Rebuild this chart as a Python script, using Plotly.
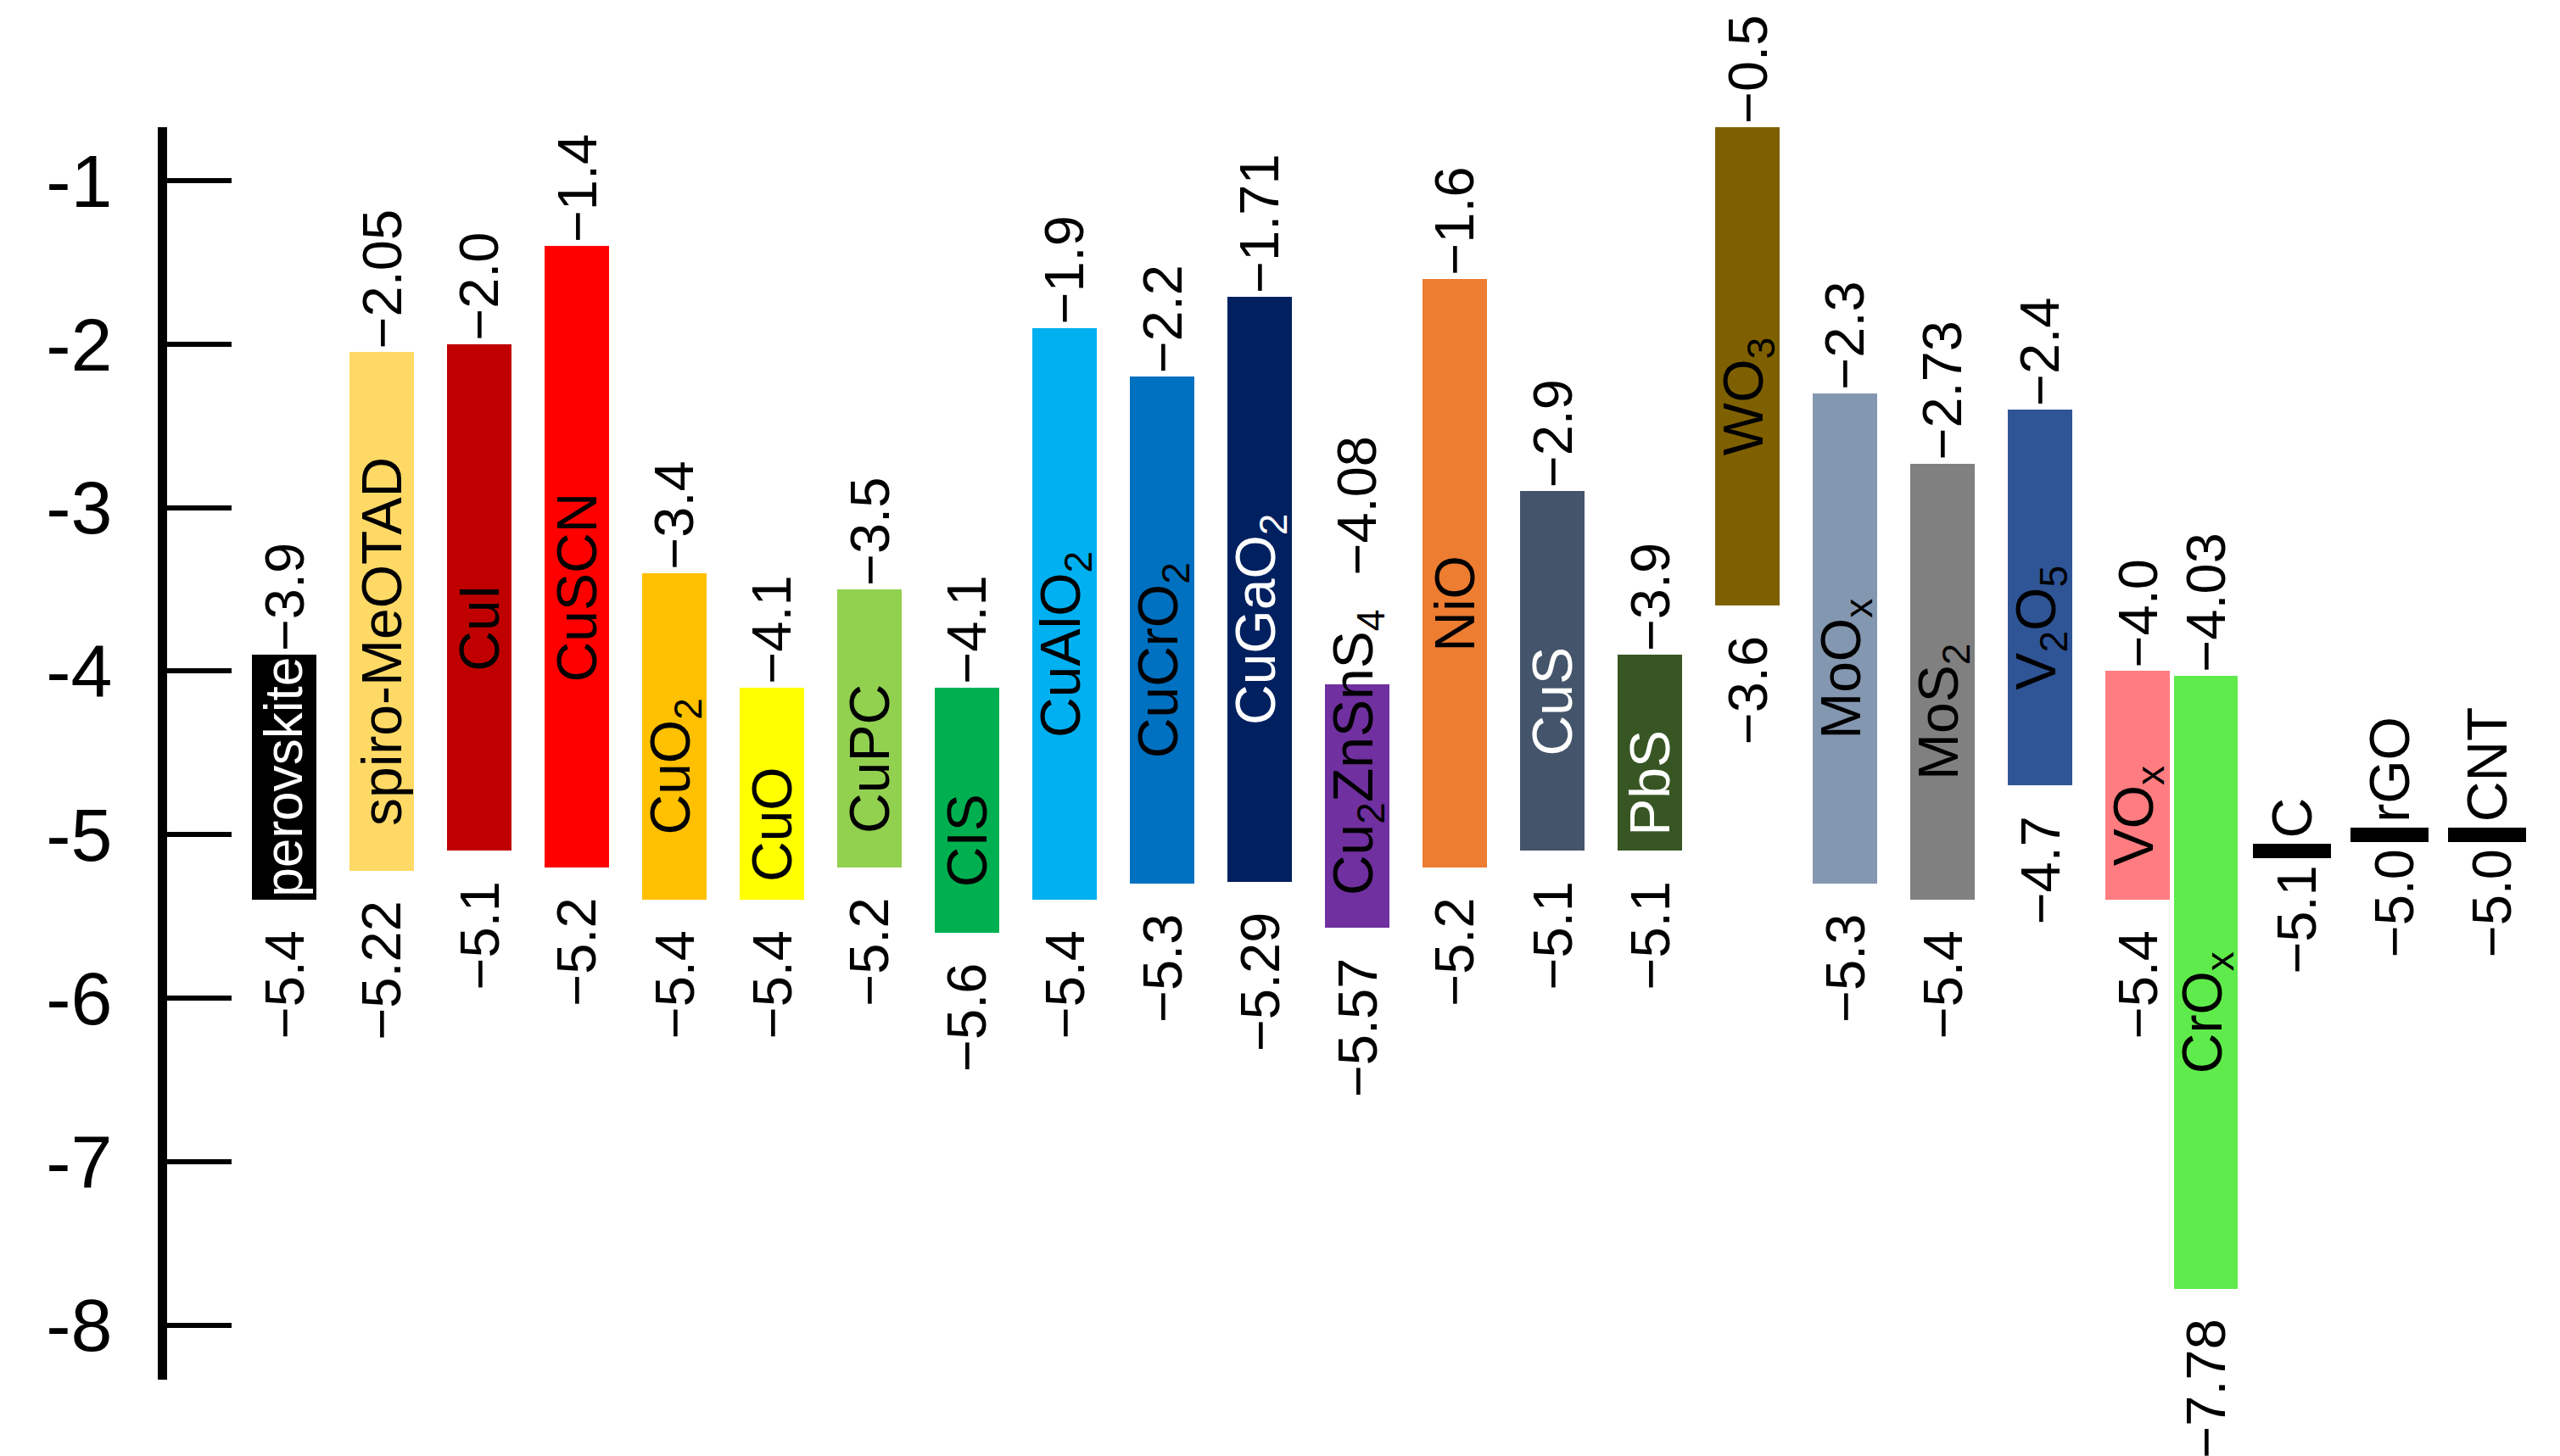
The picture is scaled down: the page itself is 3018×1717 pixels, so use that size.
import plotly.graph_objects as go

# ---------------- data ----------------
materials = ["perovskite", "spiro-MeOTAD", "CuI", "CuSCN", "CuO<sub>2</sub>", "CuO", "CuPC", "CIS",
             "CuAlO<sub>2</sub>", "CuCrO<sub>2</sub>", "CuGaO<sub>2</sub>", "Cu<sub>2</sub>ZnSnS<sub>4</sub>",
             "NiO", "CuS", "PbS", "WO<sub>3</sub>", "MoO<sub>x</sub>", "MoS<sub>2</sub>",
             "V<sub>2</sub>O<sub>5</sub>", "VO<sub>x</sub>", "CrO<sub>x</sub>"]
upper_level = [-3.9, -2.05, -2.0, -1.4, -3.4, -4.1, -3.5, -4.1, -1.9, -2.2, -1.71, -4.08,
               -1.6, -2.9, -3.9, -0.5, -2.3, -2.73, -2.4, -4.0, -4.03]
lower_level = [-5.4, -5.22, -5.1, -5.2, -5.4, -5.4, -5.2, -5.6, -5.4, -5.3, -5.29, -5.57,
               -5.2, -5.1, -5.1, -3.6, -5.3, -5.4, -4.7, -5.4, -7.78]
electrodes = ["C", "rGO", "CNT"]
work_function = [-5.1, -5.0, -5.0]
tick_values = [-1, -2, -3, -4, -5, -6, -7, -8]
tick_labels = ["-1", "-2", "-3", "-4", "-5", "-6", "-7", "-8"]

# ---------------- style ----------------
bar_colors = ["#000000", "#FFD966", "#C00000", "#FF0000", "#FFC000", "#FFFF00", "#92D050", "#00B050",
              "#00B0F0", "#0070C0", "#002060", "#7030A0", "#ED7D31", "#44546A", "#375623", "#7F6000",
              "#8497B0", "#808080", "#2F5597", "#FF7C80", "#5FEB4B"]
name_colors = ["white", "black", "black", "black", "black", "black", "black", "black",
               "black", "black", "white", "black", "black", "white", "white", "black",
               "black", "black", "black", "black", "black"]
FONT = "Arial, Liberation Sans, sans-serif"
VAL_SIZE = 65
NAME_SIZE = 66
TICK_SIZE = 88
PX_PER_UNIT = 192.8
FIG_W, FIG_H = 3018, 1717
L, T, B = 189, 142, 98
Y_M1_PX = 205.0            # pixel row of the -1 level
SLOT0_PX, SLOT_PX = 327.0, 115.0

# approximate Arial advance widths (em)
W = {'p': .556, 'e': .556, 'r': .333, 'o': .556, 'v': .5, 's': .5, 'k': .5, 'i': .222, 't': .278,
     '-': .333, 'M': .833, 'O': .778, 'T': .611, 'A': .667, 'D': .722, 'C': .722, 'u': .556,
     'I': .278, 'S': .667, 'N': .722, 'P': .667, 'l': .222, 'G': .778, 'a': .556, 'Z': .611,
     'n': .556, 'b': .556, 'W': .944, 'x': .5, 'V': .667, '2': .39, '3': .39, '4': .39, '5': .39}


def plain(s):
    return s.replace("<sub>", "").replace("</sub>", "")


def text_len_px(s, size):
    return sum(W.get(c, .556) for c in plain(s)) * size


def fmt(v):
    d = 1 if abs(round(v, 1) - v) < 1e-9 else 2
    return "\u2212" + f"{abs(v):.{d}f}"


y_top = -1 + (Y_M1_PX - T) / PX_PER_UNIT
y_bot = -1 - (FIG_H - B - Y_M1_PX) / PX_PER_UNIT

n = len(materials)
xpos = [i - (0.3 if i >= 20 else 0.0) for i in range(n)]
epos = [n + k - 0.42 for k in range(len(electrodes))]

fig = go.Figure()

fig.add_trace(go.Bar(
    x=xpos, y=[u - l for u, l in zip(upper_level, lower_level)], base=lower_level,
    width=0.653, marker=dict(color=bar_colors, line=dict(width=0)),
    hoverinfo="skip", showlegend=False))

fig.add_trace(go.Bar(
    x=epos, y=[0.09] * len(electrodes), base=[w - 0.045 for w in work_function],
    width=0.8, marker=dict(color="black", line=dict(width=0)),
    hoverinfo="skip", showlegend=False))

ann = []
for i in range(n):
    u, l = upper_level[i], lower_level[i]
    u_vis = min(u, y_top - 1e-6)
    bar_px = (u_vis - l) * PX_PER_UNIT
    tl = text_len_px(materials[i], NAME_SIZE)
    top_shift = 2
    if tl > bar_px + 25:
        # long name runs out of the top of the bar; the upper value sits above it
        ann.append(dict(x=xpos[i], y=l, text=materials[i], textangle=-90, showarrow=False,
                        xanchor="center", yanchor="bottom", yshift=36,
                        font=dict(family=FONT, size=NAME_SIZE, color=name_colors[i])))
        top_shift = 36 + tl - bar_px + 40
    else:
        size = NAME_SIZE if tl <= bar_px - 6 else NAME_SIZE * (bar_px - 6) / tl
        tl = text_len_px(materials[i], size)
        shift = min(36.0, max(0.0, (bar_px - tl) / 2 - 8))
        ann.append(dict(x=xpos[i], y=(u_vis + l) / 2, text=materials[i], textangle=-90,
                        showarrow=False, xanchor="center", yanchor="middle", yshift=-shift,
                        font=dict(family=FONT, size=size, color=name_colors[i])))
    ann.append(dict(x=xpos[i], y=u_vis, text=fmt(u), textangle=-90, showarrow=False,
                    xanchor="center", yanchor="bottom", yshift=top_shift,
                    font=dict(family=FONT, size=VAL_SIZE, color="black")))
    ann.append(dict(x=xpos[i], y=l, text=fmt(l), textangle=-90, showarrow=False,
                    xanchor="center", yanchor="top", yshift=-34,
                    font=dict(family=FONT, size=VAL_SIZE, color="black")))

for p, w, name in zip(epos, work_function, electrodes):
    ann.append(dict(x=p, y=w + 0.045, text=name, textangle=-90, showarrow=False,
                    xanchor="center", yanchor="bottom", yshift=4,
                    font=dict(family=FONT, size=NAME_SIZE, color="black")))
    ann.append(dict(x=p + 0.05, y=w - 0.045, text=fmt(w), textangle=-90, showarrow=False,
                    xanchor="center", yanchor="top", yshift=-6,
                    font=dict(family=FONT, size=VAL_SIZE, color="black")))

fig.update_layout(
    width=FIG_W, height=FIG_H,
    margin=dict(l=L, r=0, t=T, b=B, pad=0),
    paper_bgcolor="white", plot_bgcolor="white",
    bargap=0, annotations=ann,
    xaxis=dict(visible=False, range=[(L - SLOT0_PX) / SLOT_PX, (FIG_W - SLOT0_PX) / SLOT_PX]),
    yaxis=dict(range=[y_bot, y_top],
               tickvals=tick_values, ticktext=tick_labels,
               showline=True, linecolor="black", linewidth=11,
               ticks="inside", ticklen=76, tickwidth=6, tickcolor="black",
               ticklabelstandoff=36, showgrid=False, zeroline=False,
               tickfont=dict(family=FONT, size=TICK_SIZE, color="black")),
)

fig.write_html("out.html")
